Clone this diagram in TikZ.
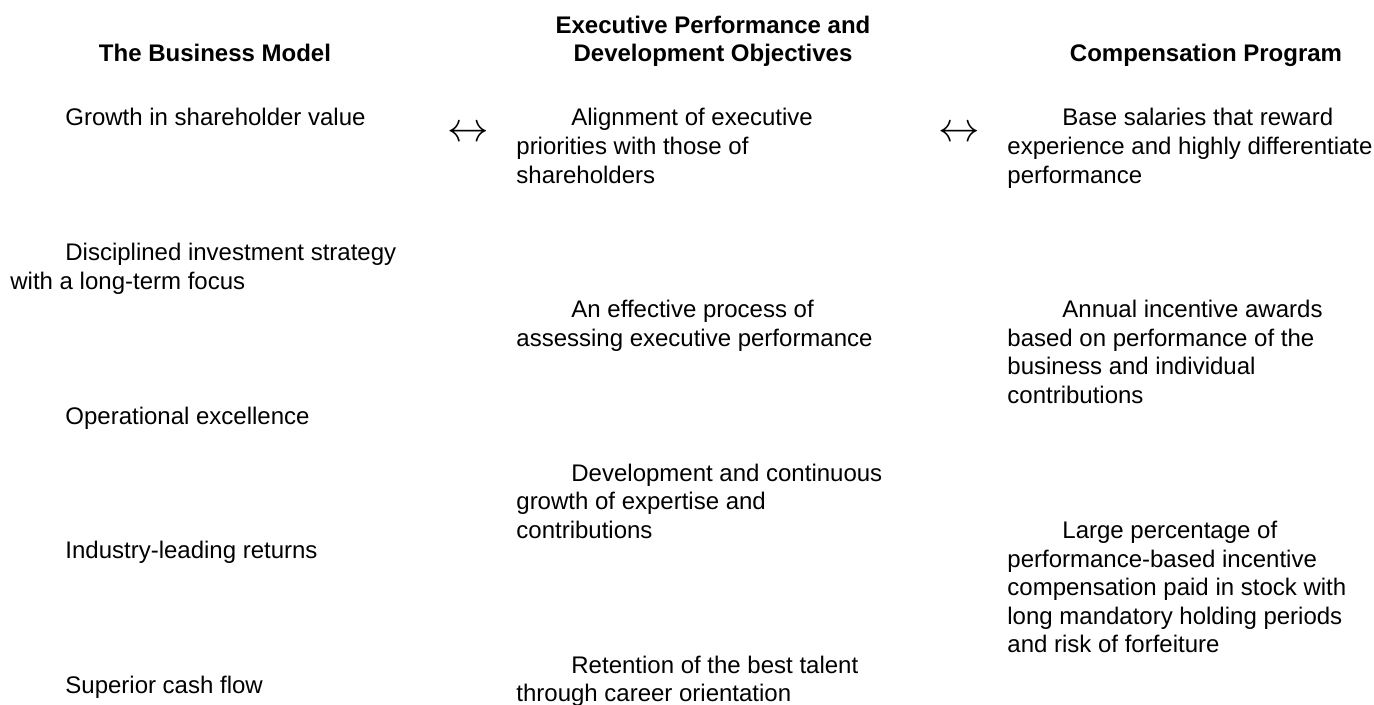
\documentclass[tikz,border=0pt]{standalone}
\usepackage{fontspec}
\setmainfont{Liberation Sans}

\begin{document}
\begin{tikzpicture}[
    x=0.5pt, y=-0.5pt,
    font=\fontsize{12}{14.3}\selectfont,
    head style/.style={anchor=base, align=center, inner sep=0pt,
        font=\fontsize{12}{14.3}\selectfont\bfseries},
    item style/.style={anchor=base west, align=left, inner sep=0pt},
    link style/.style={inner sep=0pt, font=\fontsize{22}{22}\selectfont}
]
    \useasboundingbox (0,0) rectangle (1374,705);

    \def\firstline{\hspace*{27.5pt}}

    % Column headings (placed at the baseline of their last line)
    \node[head style] (headModel) at (215,62) {The Business Model};
    \node[head style] (headObjectives) at (713,62) {Executive Performance and\\Development Objectives};
    \node[head style] (headProgram) at (1206,62) {Compensation Program};

    % The Business Model
    \node[item style] (growth) at (10,126) {\firstline Growth in shareholder value};
    \node[item style] (invest) at (10,289.6) {\firstline Disciplined investment strategy\\with a long-term focus};
    \node[item style] (operations) at (10,424) {\firstline Operational excellence};
    \node[item style] (returns) at (10,558) {\firstline Industry-leading returns};
    \node[item style] (cashflow) at (10,693) {\firstline Superior cash flow};

    % Executive Performance and Development Objectives
    \node[item style] (alignment) at (516,183.2) {\firstline Alignment of executive\\priorities with those of\\shareholders};
    \node[item style] (assessing) at (516,346) {\firstline An effective process of\\assessing executive performance};
    \node[item style] (development) at (516,538.2) {\firstline Development and continuous\\growth of expertise and\\contributions};
    \node[item style] (retention) at (516,701.6) {\firstline Retention of the best talent\\through career orientation};

    % Compensation Program
    \node[item style] (salaries) at (1007,183.2) {\firstline Base salaries that reward\\experience and highly differentiate\\performance};
    \node[item style] (awards) at (1007,403.5) {\firstline Annual incentive awards\\based on performance of the\\business and individual\\contributions};
    \node[item style] (stock) at (1007,652.8) {\firstline Large percentage of\\performance-based incentive\\compensation paid in stock with\\long mandatory holding periods\\and risk of forfeiture};

    % Links between the columns
    \node[link style] (linkLeft) at (468,134) {$\leftrightarrow$};
    \node[link style] (linkRight) at (959,134) {$\leftrightarrow$};

\end{tikzpicture}
\end{document}
